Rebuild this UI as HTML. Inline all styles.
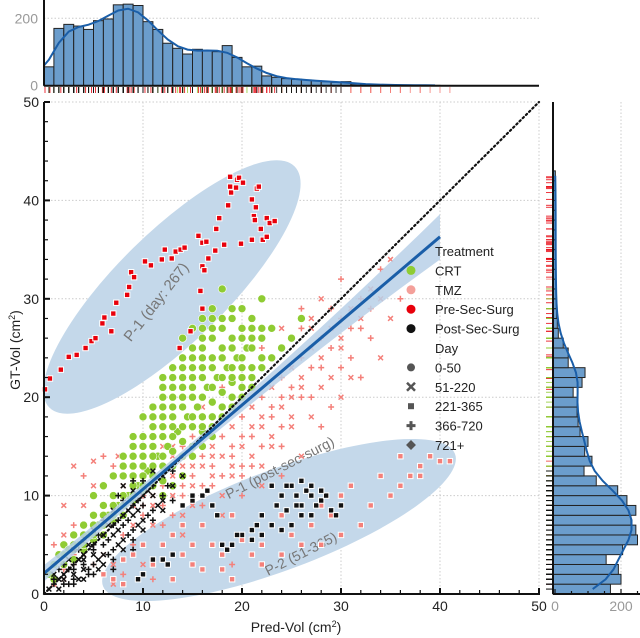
<!DOCTYPE html>
<html><head><meta charset="utf-8">
<style>
html,body{margin:0;padding:0;background:#fff;}
svg{display:block;font-family:"Liberation Sans",sans-serif;}
</style></head>
<body>
<svg id="chart" width="640" height="638" viewBox="0 0 640 638">
  <g id="grid"></g>
  <g id="annot"></g>
  <g id="pts"></g>
  <g id="fit"></g>
  <g id="axes"></g>
  <g id="tophist"></g>
  <g id="righthist"></g>
  <g id="legend"></g>
</svg>
<script>
// ---------- data ----------
const xTicks = [0,10,20,30,40,50];
const yTicks = [0,10,20,30,40,50];
const preSurgSquares = [[0.1,20.8],[0.6,21.9],[1.7,22.8],[2.5,24.1],[3.3,24.3],[4.2,25.0],[4.8,25.7],[5.2,26.0],[5.9,27.5],[6.1,28.1],[6.8,26.7],[7,28.5],[7.3,29.6],[8.4,30.4],[8.6,31.2],[8.8,32.7],[9.1,32.2],[10.2,33.8],[10.8,33.4],[11.9,34.0],[12.2,35.0],[12.9,34.1],[13.3,34.8],[13.8,35.0],[14.2,35.2],[15.6,36.4],[16,35.7],[16.4,35.8],[16,33.3],[16.2,32.9],[15.8,30.8],[16,29.0],[14.8,26.7],[13.7,25.0],[16.6,34.1],[17.3,34.9],[17.4,37.1],[17.7,38.2],[18.2,35.5],[18.6,39.5],[18.8,41.4],[18.8,42.4],[18.9,40.8],[19.4,41.3],[19.5,42.1],[19.7,42.3],[20.1,41.8],[19.9,35.6],[21,40.1],[21.4,39.3],[21.2,38.4],[21.3,38.0],[21.5,41.2],[21.7,41.4],[21.9,37.1],[21,36.0],[22.1,36.0],[22.5,36.3],[22.5,38.2],[22.8,37.7],[23.3,37.9]];
const postSurgSquares = [[15,9.5],[16,10],[17,9],[17.5,8],[18,5],[18.5,4.5],[19,5],[20,6],[21,6.5],[21.5,7],[22,8],[23,7],[23.5,9],[24,10],[24.5,8.5],[25,11],[25.5,10],[26,9],[26.5,10.5],[27,11],[27.5,9],[28,9.5],[28.5,10],[29,8.5],[29.5,8],[30,9],[25,7],[24,6.5],[26,8],[27,8],[23,11],[22,6],[21,5.5],[19.5,6],[11,3.5],[12,3.5],[12.5,3],[13,4],[10,2],[9.5,1.5],[14,9],[15,10],[16.5,10.5],[25.5,9],[28,10.5],[27,10],[26,11.5],[24.5,11]];
const tmzSquares = [[6,2],[7,1.5],[8,3.5],[9,4],[10,2],[11,3],[12,5],[13,6],[14,4],[15,3],[16,7],[17,5],[18,4],[19,8],[20,6],[21,4],[22,5],[23,7],[24,8],[25,6],[26,9],[27,7],[28,9],[29,8],[30,10],[31,11],[32,7],[33,9],[34,12],[36,11],[37,12],[38,13],[39,14],[40,13.5],[41,13.5],[35,10],[36,14],[38,12],[15,5],[18,2.5],[20,5.5],[22,3],[14,7],[12,3.5],[16,2.5],[24,4],[26,5],[28,5],[30,6],[19,1.5],[10,5],[8,1],[13,1.5]];
const crtCircles = [[0.5,2],[1,3],[1,1.5],[1.5,4],[2,3],[2,5],[2.5,4.5],[3,6],[3,3.5],[3.5,5],[4,7],[4,4.5],[4.5,6],[5,8],[5,5.5],[5.5,7],[6,9],[6,6],[6.5,8],[7,10],[7,7.5],[7.5,9],[8,12],[8,8],[8.5,10],[9,13],[9,9.5],[9.5,11],[10,14],[10,10.5],[10.5,12.5],[11,15],[11,12],[11.5,14],[12,17],[12,13],[12.5,15],[13,18],[13,14.5],[13.5,16.5],[14,20],[14,15.5],[14.5,18],[15,21],[15,17],[15.5,19],[16,23],[16,18],[16.5,21],[17,24],[17,19.5],[17.5,22],[18,25],[18,20.5],[18.5,23],[19,26],[19,21.5],[19.5,24],[20,27],[20,22],[20.5,25],[21,28],[21,23],[22,26],[22,30],[23,27],[12,22],[13,23],[14,26],[15,27],[16,28],[17,29],[18,31],[11,19],[10,18],[9,16],[8,14],[7,12],[6,11],[5,10],[19,19],[20,20],[21,21],[17,16],[16,15],[15,14],[14,12],[13,11],[12,10],[18,27],[19,28],[16,25],[15,24],[14,23],[13,20],[12,19],[11,17],[10,16],[9,14],[20,29],[21,26],[22,24],[23,24],[24,25],[25,26],[26,28],
 [2,4],[3,5],[4,6],[5,7],[6,8],[7,9],[8,10],[9,11],[10,12],[11,13],[12,14],[13,16],[14,17],[15,18],[16,20],[17,21],[18,22],[19,23],[20,24],[21,25],[22,27],[8,13],[9,12],[10,13],[11,14],[12,16],[13,17],[14,19],[15,20],[16,22],[17,23],[18,24],[19,25],[20,26],[21,27],[9,15],[10,15],[11,16],[12,18],[13,19],[14,21],[15,22],[16,24],[17,26],[18,28],[19,29],[13,21],[14,22],[15,23],[16,26],[17,27],[11,18],[12,20],[6,7],[7,8],[5,6],[4,5],[3,4.5],[8,9],[9,10],[10,11],[11,11],[12,11.5],[13,13],[14,14],[15,15],[16,16.5],[17,18],[18,19],[19,20],[20,21],[21,22],[22,23],[16,17],[17,17],[18,18],[19,22],[20,23],[14,24],[15,25],[16,27],[17,28],[12,21],[13,22]];
const tmzCrosses = [[1,1],[2,2.5],[2,6],[3,7],[4,9],[5,3],[6,4],[7,13],[7.5,14],[8,6],[9,7],[10,8],[11,9],[12,11],[13,12],[14,10],[15,13],[16,14],[17,15],[18,16],[19,17],[20,18],[21,19],[22,20],[23,21],[24,22],[25,23],[26,24],[27,25],[28,26],[29,27],[30,28],[31,29],[32,30],[33,31],[34,33],[35,34],[30,32],[28,30],[26,29],[24,27],[22,25],[20,23],[18,21],[16,19],[14,17],[12,15],[10,13],[8,11],[6,9],[4,6],[3,4],[25,18],[27,20],[29,22],[31,24],[23,15],[21,13],[19,12],[17,11],[15,9],[13,8],[11,7],[9,5],[7,3],[33,26],[35,28],[36,30],[34,24],[32,22],[30,20],[28,17],[26,14],[24,12],[22,11],[20,10],[18,8],[16,7],[14,6],[12,5],[10,3],[8,2],[25,20],[23,19],[21,17],[19,15],[17,14],[15,16],[13,14],[11,13],[9,10],[20,16],[22,18],[24,20],[26,21],[28,23],[30,25],[32,27],[27,27],[29,29],[3,13],[4,12],[5,11],[6,14],[5,13.5],[1,5],[2,9],[19,3],[7,1],[11,1.5],
 [14,13],[15,12],[16,13],[17,13],[18,14],[19,14],[20,15],[21,16],[22,17],[23,18],[24,19],[25,21],[26,22],[27,23],[28,24],[29,25],[30,26],[31,27],[32,28],[33,29],[34,30],[16,11],[17,12],[18,12],[19,13],[20,13],[21,14],[22,15],[23,16],[24,17],[25,17],[12,9],[13,10],[14,11],[15,11],[10,10],[11,11],[12,13],[13,15],[14,15],[15,17],[16,17],[17,18],[18,19],[19,20],[20,21],[21,22],[22,23],[23,24],[24,25],[25,26],[26,27],[27,28],[8,8],[9,9],[10,9],[11,10],[6,7],[7,8],[5,5],[4,4],[3,3],[2,1.5],[26,20],[28,21],[30,23],[31,22],[29,19],[27,18],[24,15],[22,13],[20,12],[18,10],[16,9],[14,8],[12,7]];
const postCrosses = [[0.5,0.5],[1,1],[1.5,1.5],[2,1],[2,2],[2.5,2.5],[3,2],[3,3],[3.5,3.5],[4,3],[4,4],[4.5,2.5],[5,4],[5,5],[5.5,3.5],[6,5],[6,6],[6.5,4],[7,6],[7,7],[7.5,5],[8,7],[8,8],[8.5,6],[9,8],[9,9],[9.5,7],[10,9],[10,10],[10.5,8],[11,10],[11,11],[11.5,9],[12,10],[12,12],[12.5,11],[13,11],[13,12.5],[14,12],[3,1],[4,1.5],[5,2],[6,3],[7,3.5],[8,4.5],[9,5.5],[10,6.5],[11,7.5],[12,8.5],[13,9.5],[1,2],[2,3],[3,4.5],[4,5.5],[5,6.5],[6,7.5],[7,8.5],[8,9.5],[9,10.5],[10,11.5],[11,12.5],[9,11.5],[8,11],[7.5,10],[1.5,0.5],[2.5,1],[3.5,1.5],[4.5,2],[5.5,2.5],
 [1,1.5],[2,1.5],[3,2.5],[4,2.5],[5,3],[6,4],[7,4.5],[8,5.5],[9,6.5],[10,7.5],[11,8.5],[12,9.5],[1.5,2.5],[2.5,3.5],[3.5,4.5],[4.5,5],[5.5,6],[6.5,7],[7.5,7.5],[8.5,8.5],[9.5,9.5],[10.5,10.5],[6.5,5.5],[7.5,6.5],[8.5,7.5],[9.5,8.5],[5,4.5],[4,3.5],[3,1.5],[6,2],[7,2.5],[8,3.5],[9,4.5]];
const fitStart = [0,2.1];
const fitEnd = [40,36.3];
const topHistCounts = [56,170,182,177,167,193,198,240,242,238,190,167,126,111,94,108,104,101,119,84,56,58,29,25,21,19,17,15,12,10,12,5,4,3,3,2,1,1,2,1];
const rightHistCounts = [168,200,192,155,205,250,245,230,245,218,190,125,88,112,90,100,76,70,67,67,55,82,91,40,40,25,10,7,5,4,3,3,3,2,2,2,2,2,2,2,2,1,1];
const countTicks = [0,200];
const legendTreatment = ["CRT","TMZ","Pre-Sec-Surg","Post-Sec-Surg"];
const legendDay = ["0-50","51-220","221-365","366-720","721+"];

// ---------- scales ----------
const X0=44, X1=539, Y0=594, Y1=102;
const sx = v => X0 + v*(X1-X0)/50;
const sy = v => Y0 - v*(Y0-Y1)/50;
const topBase=85.7, topScale=(85.7-18.3)/200;
const rightBase=555, rightScale=(621-555)/200;
const NS="http://www.w3.org/2000/svg";
function mk(tag, attrs, parent){const e=document.createElementNS(NS,tag);for(const k in attrs)e.setAttribute(k,attrs[k]);parent.appendChild(e);return e;}
const G=id=>document.getElementById(id);

// ---------- grid ----------
const grid=G('grid');
xTicks.slice(1).forEach(t=>{const l=mk('line',{x1:sx(t),x2:sx(t),y1:Y1,y2:Y0,stroke:'#ccc','stroke-dasharray':'1.5,2','stroke-width':1},grid);
});
yTicks.slice(1).forEach(t=>{const l=mk('line',{x1:X0,x2:X1,y1:sy(t),y2:sy(t),stroke:'#ccc','stroke-dasharray':'1.5,2','stroke-width':1},grid);
});

// ---------- ellipses ----------
const an=G('annot');
let e1=mk('ellipse',{cx:172,cy:287,rx:172,ry:55,fill:'#c4d8ea',transform:'rotate(-44.5 172 287)'},an);

let e2=mk('ellipse',{cx:279,cy:520,rx:188,ry:50,fill:'#c4d8ea',transform:'rotate(-20.6 279 520)'},an);

let t1=mk('text',{x:0,y:0,'font-size':15,fill:'#777','text-anchor':'middle',transform:'translate(160,305) rotate(-52)'},an);t1.textContent='P-1 (day: 267)';

let t2=mk('text',{x:0,y:0,'font-size':14,fill:'#777','text-anchor':'middle',transform:'translate(282,472) rotate(-27)'},an);t2.textContent='P-1 (post-sec-surg)';

let t3=mk('text',{x:0,y:0,'font-size':14,fill:'#777','text-anchor':'middle',transform:'translate(303,558) rotate(-27)'},an);t3.textContent='P-2 (51-365)';


// ---------- points ----------
const pts=G('pts');
function square(d,color,name){const s=mk('rect',{x:sx(d[0])-2.7,y:sy(d[1])-2.7,width:5.4,height:5.4,fill:color,stroke:'#fff','stroke-width':1},pts);
}
function circle(d,color,name){const c=mk('circle',{cx:sx(d[0]),cy:sy(d[1]),r:4,fill:color,stroke:'#fff','stroke-width':0.6},pts);
}
function cross(d,color,name,i){const x=sx(d[0]),y=sy(d[1]);const r=3;
const p=(i%2)?`M${x-r},${y}L${x+r},${y}M${x},${y-r}L${x},${y+r}`:`M${x-r*0.8},${y-r*0.8}L${x+r*0.8},${y+r*0.8}M${x-r*0.8},${y+r*0.8}L${x+r*0.8},${y-r*0.8}`;
const c=mk('path',{d:p,stroke:color,'stroke-width':1.5,fill:'none'},pts);
}
tmzCrosses.forEach((d,i)=>cross(d,'#f4807a','tmz-cross-point',i));
crtCircles.forEach(d=>circle(d,'#8fcc33','crt-point'));
postCrosses.forEach((d,i)=>cross(d,'#111','post-sec-surg-cross-point',i));
tmzSquares.forEach(d=>square(d,'#f4807a','tmz-square-point'));
postSurgSquares.forEach(d=>square(d,'#111','post-sec-surg-square-point'));
preSurgSquares.forEach(d=>square(d,'#e8000b','pre-sec-surg-point'));

// ---------- fit ----------
const fit=G('fit');
const slope=(fitEnd[1]-fitStart[1])/(fitEnd[0]-fitStart[0]);
let up=[],lo=[];
for(let i=0;i<=20;i++){const xv=fitStart[0]+(fitEnd[0]-fitStart[0])*i/20;const yv=fitStart[1]+slope*xv;const w=0.5+Math.pow((xv-12)/28,2)*1.8;
up.push(`${sx(xv)},${sy(yv+w)}`);lo.unshift(`${sx(xv)},${sy(yv-w)}`);}
let band=mk('polygon',{points:up.concat(lo).join(' '),fill:'#b8d0e8',opacity:0.85},fit);

let diag=mk('line',{x1:sx(0),y1:sy(0),x2:sx(50),y2:sy(50),stroke:'#111','stroke-width':2.2,'stroke-dasharray':'1.5,3','stroke-linecap':'round'},fit);

let rl=mk('line',{x1:sx(fitStart[0]),y1:sy(fitStart[1]),x2:sx(fitEnd[0]),y2:sy(fitEnd[1]),stroke:'#1a5ea8','stroke-width':3},fit);


// ---------- axes ----------
const ax=G('axes');
let ys=mk('line',{x1:X0,y1:Y1,x2:X0,y2:Y0,stroke:'#111','stroke-width':2},ax);
let xs=mk('line',{x1:X0,y1:Y0,x2:X1+1,y2:Y0,stroke:'#111','stroke-width':2},ax);
for(let v=0;v<=50;v+=2){const big=v%10===0;
let a=mk('line',{x1:X0,x2:X0+(big?6:4),y1:sy(v),y2:sy(v),stroke:'#111','stroke-width':big?2:1.2},ax);
let b=mk('line',{y1:Y0,y2:Y0-(big?6:4),x1:sx(v),x2:sx(v),stroke:'#111','stroke-width':big?2:1.2},ax);}
xTicks.forEach(t=>{let tx=mk('text',{x:sx(t),y:Y0+17,'font-size':14,'text-anchor':'middle',fill:'#222'},ax);tx.textContent=t;
});
yTicks.forEach(t=>{let tx=mk('text',{x:X0-5,y:sy(t)+5,'font-size':14,'text-anchor':'end',fill:'#222'},ax);tx.textContent=t;
});
let xl=mk('text',{x:296,y:632,'font-size':14,'text-anchor':'middle',fill:'#222'},ax);
xl.innerHTML='Pred-Vol (cm<tspan dy="-5" font-size="9">2</tspan><tspan dy="5">)</tspan>';

let yl=mk('text',{x:0,y:0,'font-size':14,'text-anchor':'middle',fill:'#222',transform:'translate(20,350) rotate(-90)'},ax);
yl.innerHTML='GT-Vol (cm<tspan dy="-5" font-size="9">2</tspan><tspan dy="5">)</tspan>';


// ---------- rugs ----------
const groups=[[tmzCrosses,'#f4807a'],[tmzSquares,'#f4807a'],[preSurgSquares,'#e8000b'],[crtCircles,'#8fcc33'],[postCrosses,'#111'],[postSurgSquares,'#111']];
const th=G('tophist'), rh=G('righthist');
groups.forEach(([arr,c])=>arr.forEach(d=>{
 let a=mk('line',{x1:sx(d[0]),x2:sx(d[0]),y1:87,y2:93,stroke:c,'stroke-width':1,opacity:0.8},th);
 let b=mk('line',{y1:sy(d[1]),y2:sy(d[1]),x1:546,x2:553,stroke:c,'stroke-width':1,opacity:0.8},rh);
}));

// ---------- KDE helper ----------
function smooth(c,sig){return c.map((_,i)=>{let s=0,w=0;for(let j=-8;j<=8;j++){const k=i+j;const g=Math.exp(-j*j/(2*sig*sig));if(k>=0&&k<c.length){s+=c[k]*g;}w+=g;}return s/w;});}

// ---------- top histogram ----------
let tg=mk('line',{x1:X0,x2:X1,y1:topBase-200*topScale,y2:topBase-200*topScale,stroke:'#ccc','stroke-dasharray':'1.5,2'},th);
topHistCounts.forEach((c,i)=>{let r=mk('rect',{x:sx(i),y:topBase-c*topScale,width:sx(i+1)-sx(i),height:c*topScale,fill:'#6b9dcc',stroke:'#222','stroke-width':1},th);
});
const tk=smooth(topHistCounts,1.3);
let tp=tk.map((v,i)=>`${i?'L':'M'}${sx(i+0.5)},${topBase-v*topScale}`).join('');
let tkl=mk('path',{d:`M${sx(0)},${topBase-60*topScale}`+tp.replace('M','L'),fill:'none',stroke:'#1a5ea8','stroke-width':2},th);

let tba=mk('line',{x1:X0,x2:X1,y1:topBase,y2:topBase,stroke:'#111','stroke-width':2},th);
let tsp=mk('line',{x1:X0,x2:X0,y1:0,y2:topBase,stroke:'#111','stroke-width':2},th);
countTicks.forEach(t=>{let tx=mk('text',{x:X0-6,y:topBase-t*topScale+5,'font-size':14,'text-anchor':'end',fill:'#999'},th);tx.textContent=t;
});

// ---------- right histogram ----------
let rg=mk('line',{x1:rightBase+200*rightScale,x2:rightBase+200*rightScale,y1:Y1,y2:Y0,stroke:'#ccc','stroke-dasharray':'1.5,2'},rh);
rightHistCounts.forEach((c,i)=>{let r=mk('rect',{x:553,y:sy(i+1),width:c*rightScale+2,height:sy(i)-sy(i+1),fill:'#6b9dcc',stroke:'#222','stroke-width':1},rh);
});
const rk=smooth(rightHistCounts,1.6);
let rp=rk.map((v,i)=>`${i?'L':'M'}${rightBase+v*rightScale},${sy(i+0.5)}`).join('');
let rkl=mk('path',{d:rp,fill:'none',stroke:'#1a5ea8','stroke-width':2},rh);

let rsp=mk('line',{x1:553,x2:553,y1:Y1,y2:Y0,stroke:'#111','stroke-width':2},rh);
let rax=mk('line',{x1:553,x2:640,y1:Y0,y2:Y0,stroke:'#111','stroke-width':2},rh);
[0,50,100,150,200,250].forEach(v=>{let l=mk('line',{x1:rightBase+v*rightScale,x2:rightBase+v*rightScale,y1:Y0,y2:Y0-(v%200===0?5:3),stroke:'#111','stroke-width':1.2},rh);
});
countTicks.forEach(t=>{let tx=mk('text',{x:rightBase+t*rightScale,y:Y0+17,'font-size':14,'text-anchor':'middle',fill:'#999'},rh);tx.textContent=t;
});

// ---------- legend ----------
const lg=G('legend');
const ly0=251, ld=19.4, lx=435, mx=411;
function ltext(s,i){let t=mk('text',{x:lx,y:ly0+i*ld+5,'font-size':13,fill:'#222'},lg);t.textContent=s;
}
ltext('Treatment',0);
const tcol=['#8fcc33','#f4a09a','#e8000b','#111'];
legendTreatment.forEach((s,i)=>{let c=mk('circle',{cx:mx,cy:ly0+(i+1)*ld,r:4.5,fill:tcol[i]},lg);
ltext(s,i+1);});
ltext('Day',5);
legendDay.forEach((s,i)=>{const y=ly0+(i+6)*ld;let m;
if(i===0)m=mk('circle',{cx:mx,cy:y,r:4,fill:'#555'},lg);
else if(i===1)m=mk('path',{d:`M${mx-4},${y-4}L${mx+4},${y+4}M${mx-4},${y+4}L${mx+4},${y-4}`,stroke:'#555','stroke-width':2.5},lg);
else if(i===2)m=mk('rect',{x:mx-3,y:y-3,width:6,height:6,fill:'#555'},lg);
else if(i===3)m=mk('path',{d:`M${mx-4.5},${y}L${mx+4.5},${y}M${mx},${y-4.5}L${mx},${y+4.5}`,stroke:'#555','stroke-width':3},lg);
else m=mk('rect',{x:mx-3.5,y:y-3.5,width:7,height:7,fill:'#555',transform:`rotate(45 ${mx} ${y})`},lg);
ltext(s,i+6);});
</script>
</body></html>
